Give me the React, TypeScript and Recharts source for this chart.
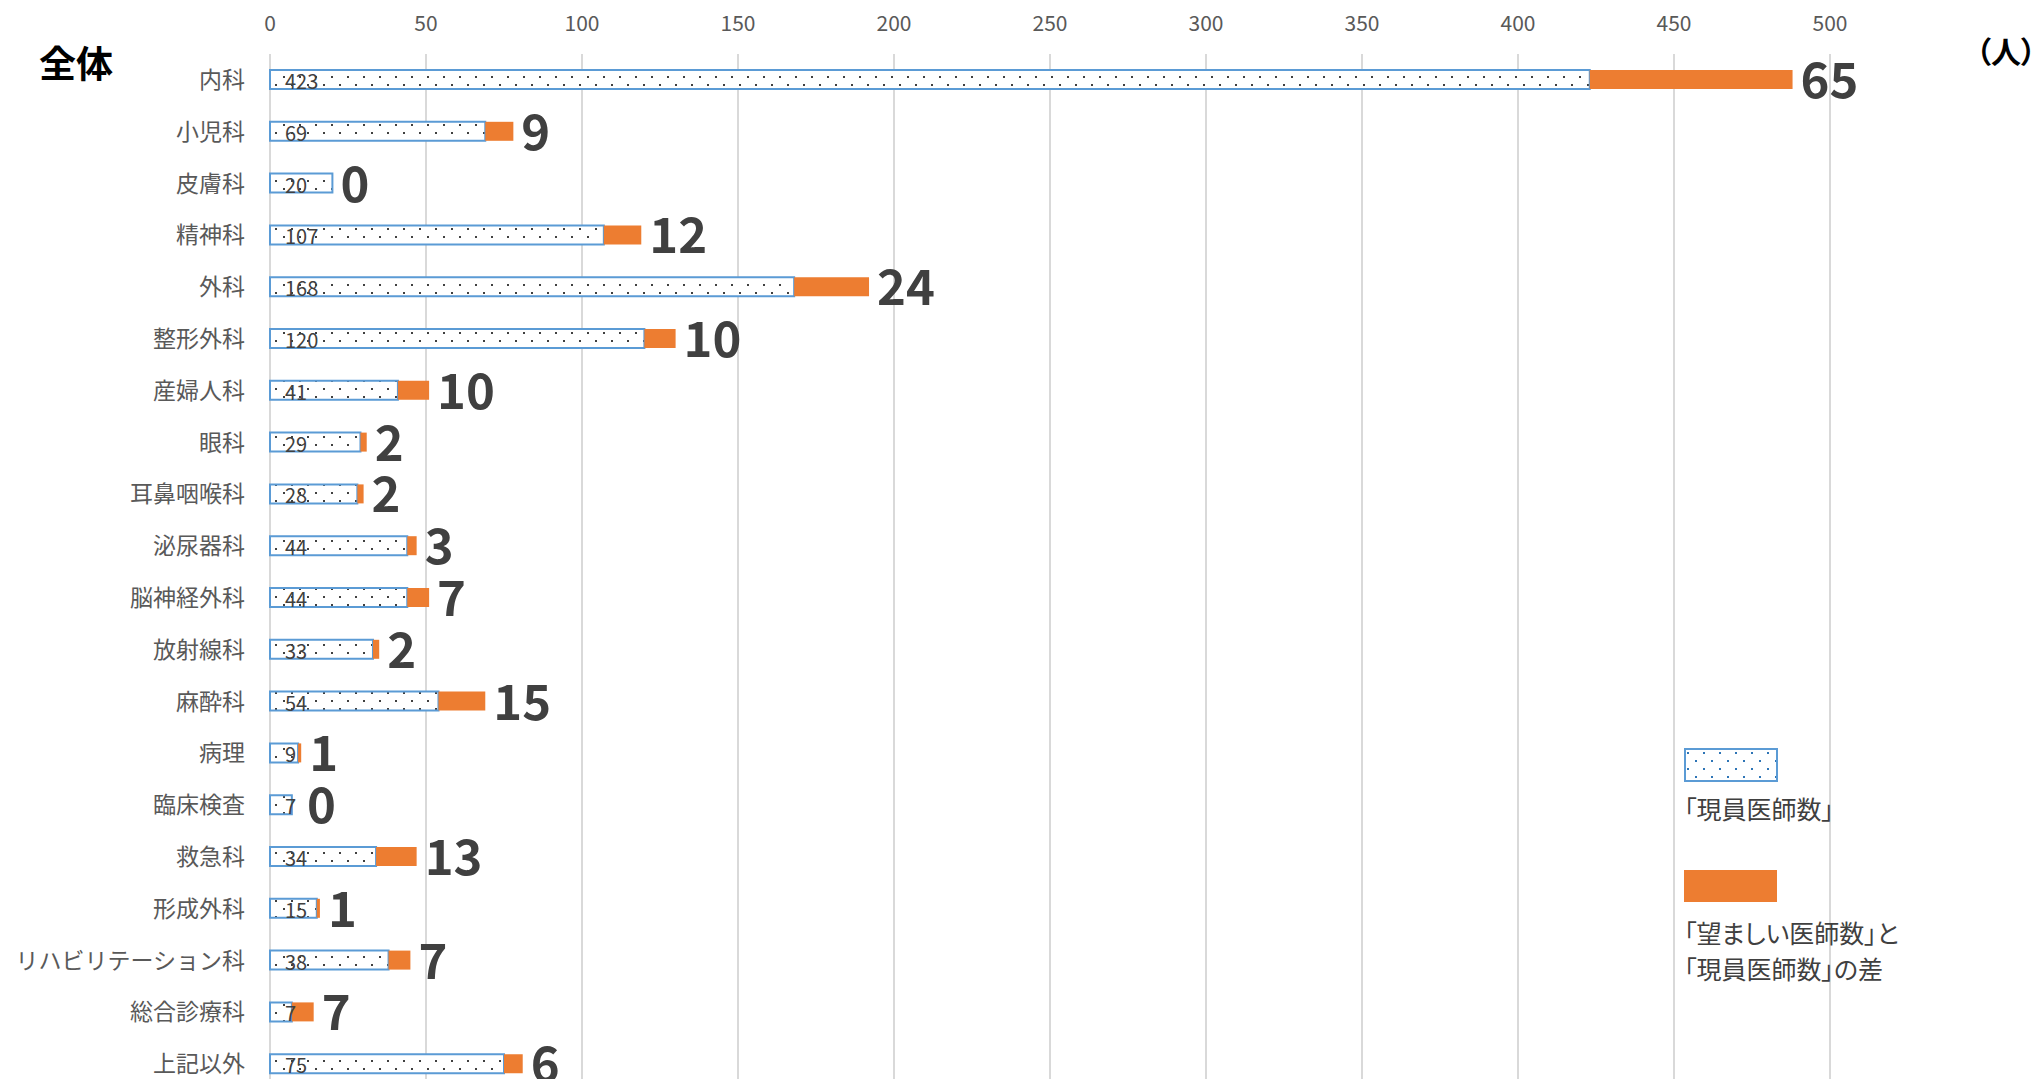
import React from "react";
import { Bar, BarChart, CartesianGrid, LabelList, XAxis, YAxis } from "recharts";

const categories = [
  "内科",
  "小児科",
  "皮膚科",
  "精神科",
  "外科",
  "整形外科",
  "産婦人科",
  "眼科",
  "耳鼻咽喉科",
  "泌尿器科",
  "脳神経外科",
  "放射線科",
  "麻酔科",
  "病理",
  "臨床検査",
  "救急科",
  "形成外科",
  "リハビリテーション科",
  "総合診療科",
  "上記以外",
];
const currentDoctors = [423, 69, 20, 107, 168, 120, 41, 29, 28, 44, 44, 33, 54, 9, 7, 34, 15, 38, 7, 75];
const shortfall = [65, 9, 0, 12, 24, 10, 10, 2, 2, 3, 7, 2, 15, 1, 0, 13, 1, 7, 7, 6];
const xTicks = [0, 50, 100, 150, 200, 250, 300, 350, 400, 450, 500];
const seriesNames = ["「現員医師数」", "「望ましい医師数」と\n「現員医師数」の差"];

const data = categories.map((name, i) => ({
  name,
  current: currentDoctors[i],
  gap: shortfall[i],
}));

const FONT = '"Noto Sans CJK JP", "Noto Sans", sans-serif';
const BLUE = "#5B9BD5";
const ORANGE = "#ED7D31";

function XTick({ x, y, payload }: any) {
  return (
    <text x={x} y={y - 15} textAnchor="middle" fill="#595959" fontSize={21} fontFamily={FONT}>
      {payload.value}
    </text>
  );
}

function YTick({ x, y, payload }: any) {
  return (
    <text x={x - 17} y={y - 2} textAnchor="end" dominantBaseline="central" fill="#595959" fontSize={23} fontFamily={FONT}>
      {payload.value}
    </text>
  );
}

// value label of the "current" bar, plus the gap label placed after the stacked end
// (zero-width gap bars are not drawn, so their labels hang off the current bar)
function CurrentLabels({ x, y, width, height, value, index }: any) {
  const gap = shortfall[index];
  const perUnit = width / value;
  const end = x + width + gap * perUnit;
  const innerEnd = x + 15 + String(value).length * 12;
  const gapX = Math.max(end + 8, innerEnd + 10);
  return (
    <g>
      <text x={x + 15} y={y + height / 2 + 1} dominantBaseline="central" fill="#404040" fontSize={20} fontFamily={FONT}>
        {value}
      </text>
      <text
        x={gapX}
        y={y + height / 2 - 3}
        dominantBaseline="central"
        fill="#404040"
        fontSize={49}
        fontWeight="bold"
        fontFamily={FONT}
      >
        {gap}
      </text>
    </g>
  );
}

function LegendBlock() {
  const textStyle: React.CSSProperties = {
    position: "absolute",
    left: 0,
    whiteSpace: "pre-line",
    fontFamily: FONT,
    fontFeatureSettings: '"palt"',
    color: "#404040",
    fontSize: 25,
    lineHeight: "36px",
  };
  return (
    <div style={{ position: "absolute", left: 1684, top: 748, width: 340, height: 240 }}>
      <svg width={94} height={34} style={{ position: "absolute", left: 0, top: 0 }}>
        <rect x={1} y={1} width={92} height={32} fill="url(#legendDots)" stroke={BLUE} strokeWidth={2} />
      </svg>
      <div style={{ ...textStyle, top: 42 }}>{seriesNames[0]}</div>
      <svg width={94} height={34} style={{ position: "absolute", left: 0, top: 121 }}>
        <rect x={0} y={1} width={93} height={32} fill={ORANGE} />
      </svg>
      <div style={{ ...textStyle, top: 166 }}>{seriesNames[1]}</div>
    </div>
  );
}

export default function App() {
  return (
    <div style={{ position: "absolute", left: 0, top: 0, width: 2035, height: 1079, overflow: "hidden", background: "#fff" }}>
      <svg width={0} height={0} style={{ position: "absolute" }}>
        <defs>
          <pattern id="barDots" width={16} height={16} patternUnits="userSpaceOnUse">
            <rect width={16} height={16} fill="#fff" />
            <rect x={3} y={4} width={2} height={2} fill="#404040" />
            <rect x={11} y={12} width={2} height={2} fill="#404040" />
          </pattern>
          <pattern id="legendDots" width={16} height={16} patternUnits="userSpaceOnUse">
            <rect width={16} height={16} fill="#fff" />
            <rect x={3} y={4} width={2} height={2} fill="#2E75B6" />
            <rect x={11} y={12} width={2} height={2} fill="#2E75B6" />
          </pattern>
        </defs>
      </svg>
      <div
        style={{
          position: "absolute",
          left: 39,
          top: 38,
          fontFamily: FONT,
          fontWeight: "bold",
          fontSize: 37,
          lineHeight: "48px",
          color: "#000",
        }}
      >
        全体
      </div>
      <div
        style={{
          position: "absolute",
          left: 1976,
          top: 30,
          fontFamily: FONT,
          fontFeatureSettings: '"palt"',
          fontWeight: "bold",
          fontSize: 30,
          lineHeight: "40px",
          color: "#000",
        }}
      >
        （人）
      </div>
      <BarChart
        width={2035}
        height={1090}
        data={data}
        layout="vertical"
        margin={{ top: 0, right: 205, bottom: 0, left: 0 }}
        barSize={19}
      >
        <CartesianGrid horizontal={false} stroke="#D9D9D9" strokeWidth={2} />
        <XAxis
          type="number"
          orientation="top"
          domain={[0, 500]}
          ticks={xTicks}
          axisLine={false}
          tickLine={false}
          height={54}
          tick={<XTick />}
        />
        <YAxis
          type="category"
          dataKey="name"
          width={270}
          axisLine={false}
          tickLine={false}
          interval={0}
          tick={<YTick />}
        />
        <Bar
          dataKey="current"
          name={seriesNames[0]}
          stackId="a"
          fill="url(#barDots)"
          stroke={BLUE}
          strokeWidth={2}
          isAnimationActive={false}
        >
          <LabelList dataKey="current" content={<CurrentLabels />} />
        </Bar>
        <Bar dataKey="gap" name={seriesNames[1]} stackId="a" fill={ORANGE} isAnimationActive={false} />
      </BarChart>
      <LegendBlock />
    </div>
  );
}
